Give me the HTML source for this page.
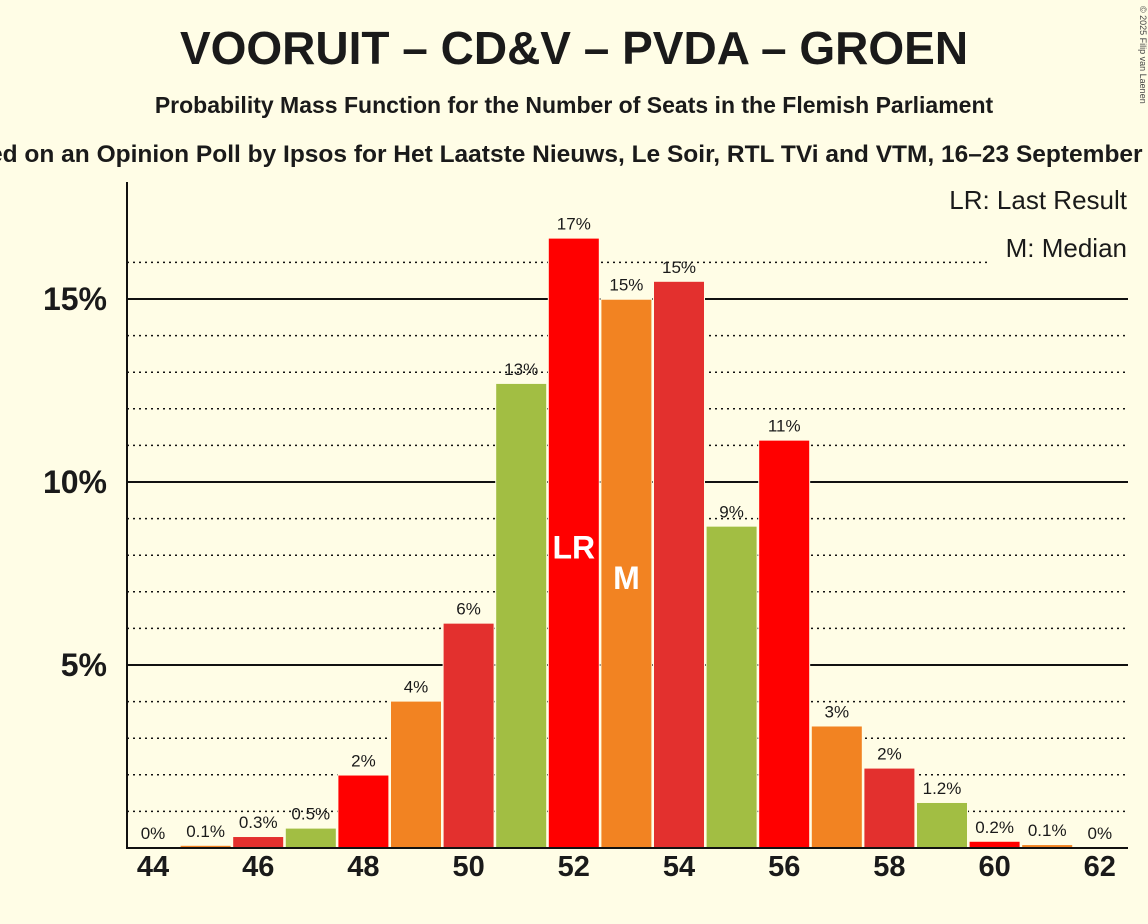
<!DOCTYPE html>
<html><head><meta charset="utf-8"><style>
body{margin:0;background:#FFFDE6;}
svg{display:block;font-family:"Liberation Sans",sans-serif;}
</style></head><body>
<svg id="chart" width="1148" height="924" viewBox="0 0 1148 924">
<rect width="1148" height="924" fill="#FFFDE6"/>
<text x="574" y="64" text-anchor="middle" font-size="46" font-weight="bold" fill="#1a1a1a">VOORUIT – CD&amp;V – PVDA – GROEN</text>
<text x="574" y="113" text-anchor="middle" font-size="23" font-weight="bold" fill="#1a1a1a">Probability Mass Function for the Number of Seats in the Flemish Parliament</text>
<text x="574" y="162" text-anchor="middle" font-size="24.5" font-weight="bold" fill="#1a1a1a">Based on an Opinion Poll by Ipsos for Het Laatste Nieuws, Le Soir, RTL TVi and VTM, 16–23 September 2024</text>
<text x="1140" y="6" font-size="9" fill="#444" transform="rotate(90 1140 6)">© 2025 Filip van Laenen</text>
<g id="grid"></g>
<rect x="940" y="185" width="190" height="32" fill="#FFFDE6"/>
<rect x="990" y="233" width="140" height="32" fill="#FFFDE6"/>
<g id="bars"></g><g id="labels"></g>
<line x1="127" y1="182" x2="127" y2="849" stroke="#111" stroke-width="2"/>
<line x1="127" y1="848" x2="1128" y2="848" stroke="#111" stroke-width="2"/>
<text x="1127" y="209" text-anchor="end" font-size="26" fill="#1a1a1a">LR: Last Result</text>
<text x="1127" y="257" text-anchor="end" font-size="26" fill="#1a1a1a">M: Median</text>
</svg>
<script>
const seats=[44,45,46,47,48,49,50,51,52,53,54,55,56,57,58,59,60,61,62];
const probs=[0,0.06,0.3,0.53,1.98,4.0,6.13,12.68,16.65,14.98,15.47,8.78,11.13,3.32,2.17,1.23,0.17,0.08,0];
const printed=["0%","0.1%","0.3%","0.5%","2%","4%","6%","13%","17%","15%","15%","9%","11%","3%","2%","1.2%","0.2%","0.1%","0%"];
const yTicks=[5,10,15];
const xTicks=[44,46,48,50,52,54,56,58,60,62];
const lastResult=52, median=53;
const colors=["#FF0000","#F28322","#E3302E","#A2BE43"];
const NS="http://www.w3.org/2000/svg";
const y=v=>848-v*36.6;
const x=s=>153+(s-44)*52.6;
function mk(tag,attrs,parent){const e=document.createElementNS(NS,tag);for(const k in attrs)e.setAttribute(k,attrs[k]);document.getElementById(parent).appendChild(e);return e;}
for(let v=1;v<=16;v++){
  const solid=v%5===0;
  const l=mk('line',{x1:127,x2:1128,y1:y(v),y2:y(v),stroke:'#111','stroke-width':solid?2:1.5,'stroke-dasharray':solid?'':'2,4'},'grid');
  
  
}
yTicks.forEach(t=>{
  const e=mk('text',{x:107,y:y(t)+11,'text-anchor':'end','font-size':32,'font-weight':'bold',fill:'#1a1a1a'},'labels');
  e.textContent=t+'%';
  
  
});
xTicks.forEach(t=>{
  const e=mk('text',{x:x(t),y:876,'text-anchor':'middle','font-size':29,'font-weight':'bold',fill:'#1a1a1a'},'labels');
  e.textContent=t;
  
  
});
seats.forEach((s,i)=>{
  const p=probs[i];
  if(p>0){
    const bg=mk('rect',{x:x(s)-26,y:y(p)-2,width:52,height:848-y(p)+2,fill:'#FFFDE6'},'bars');
    
    
    const r=mk('rect',{x:x(s)-25,y:y(p),width:50,height:848-y(p),fill:colors[(s-44)%4]},'bars');
    
    
  }
  const t=mk('text',{x:x(s),y:y(p)-9,'text-anchor':'middle','font-size':17,fill:'#1a1a1a'},'labels');
  t.textContent=printed[i];
  
  
  if(s===lastResult||s===median){
    const m=mk('text',{x:x(s),y:y(p/2)+15,'text-anchor':'middle','font-size':32,'font-weight':'bold',fill:'#fff'},'labels');
    m.textContent=s===lastResult?'LR':'M';
    
    
  }
});
</script>
</body></html>
